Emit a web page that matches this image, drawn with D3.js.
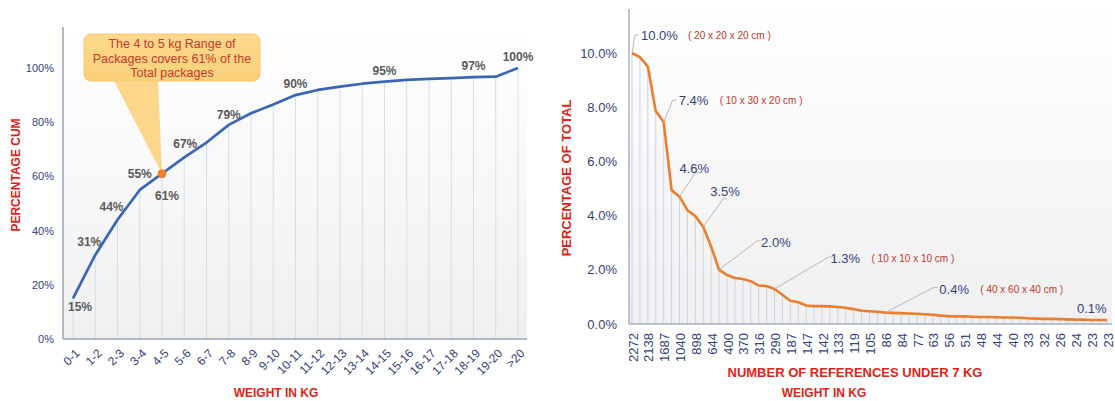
<!DOCTYPE html>
<html>
<head>
<meta charset="utf-8">
<script src="https://cdn.jsdelivr.net/npm/d3@7"></script>
<style>
  html, body { margin: 0; padding: 0; background: #fff; }
  svg { display: block; font-family: Arial, "Liberation Sans", sans-serif; }
</style>
</head>
<body>
<svg id="chart" width="1115" height="401"></svg>
<script>
// ---------- Left chart data ----------
const weightCategories = ["0-1","1-2","2-3","3-4","4-5","5-6","6-7","7-8","8-9","9-10","10-11","11-12","12-13","13-14","14-15","15-16","16-17","17-18","18-19","19-20",">20"];
const cumulativePercent = [15, 31, 44, 55, 61, 67, 72.5, 79, 83.3, 86.5, 90, 91.9, 93.1, 94.2, 95, 95.6, 96.0, 96.3, 96.6, 96.8, 100];
const labeledWeightIdx = [0, 1, 2, 3, 4, 5, 7, 10, 14, 18, 20];
const leftYTicks = [0, 20, 40, 60, 80, 100];
const calloutLines = ["The 4 to 5 kg Range of", "Packages covers 61% of the", "Total packages"];
const calloutIdx = 4;

// ---------- Right chart data ----------
const referenceTickLabels = ["2272","2138","1687","1040","898","644","400","370","316","290","187","147","142","133","119","105","86","84","77","63","56","51","48","44","40","33","32","26","24","23","23"];
const percentOfTotal = [10.0, 9.85, 9.5, 7.86, 7.45, 4.94, 4.7, 4.2, 3.98, 3.59, 2.85, 2.0, 1.81, 1.70, 1.66, 1.58, 1.42, 1.40, 1.29, 1.08, 0.86, 0.80, 0.68, 0.66, 0.66, 0.65, 0.63, 0.60, 0.55, 0.49, 0.47, 0.45, 0.42, 0.41, 0.40, 0.39, 0.38, 0.36, 0.34, 0.31, 0.29, 0.28, 0.28, 0.27, 0.26, 0.26, 0.25, 0.24, 0.24, 0.23, 0.21, 0.20, 0.19, 0.19, 0.18, 0.17, 0.16, 0.16, 0.15, 0.15, 0.15];
const rightYTicks = [0, 2, 4, 6, 8, 10];
const annotIdx = [0, 4, 6, 9, 11, 18, 32, 60];
const annotText = ["10.0%", "7.4%", "4.6%", "3.5%", "2.0%", "1.3%", "0.4%", "0.1%"];
const annotNote = ["( 20 x 20 x 20 cm )", "( 10 x 30 x 20 cm )", "", "", "", "( 10 x 10 x 10 cm )", "( 40 x 60 x 40 cm )", ""];

const svg = d3.select("#chart");
const defs = svg.append("defs");
const g1 = defs.append("linearGradient").attr("id", "bgGrad").attr("x1", 0).attr("y1", 0).attr("x2", 0).attr("y2", 1);
g1.append("stop").attr("offset", "0%").attr("stop-color", "#ffffff");
g1.append("stop").attr("offset", "100%").attr("stop-color", "#f0f0f1");
const g2 = defs.append("linearGradient").attr("id", "callGrad").attr("x1", 0).attr("y1", 0).attr("x2", 0).attr("y2", 1);
g2.append("stop").attr("offset", "0%").attr("stop-color", "#fdd98c");
g2.append("stop").attr("offset", "100%").attr("stop-color", "#fbd07a");

const navy = "#34427a";
const red = "#e2231a";

// ================= LEFT CHART =================
const L = { left: 63, right: 527, top: 27, bottom: 339 };
const xL = d3.scalePoint().domain(weightCategories).range([73, 518]);
const yL = d3.scaleLinear().domain([0, 100]).range([L.bottom, 68]);

svg.append("rect").attr("x", L.left).attr("y", L.top).attr("width", L.right - L.left).attr("height", L.bottom - L.top).attr("fill", "url(#bgGrad)");

svg.append("g").selectAll("line").data(weightCategories).join("line")
  .attr("x1", d => xL(d)).attr("x2", d => xL(d))
  .attr("y1", (d, i) => yL(cumulativePercent[i])).attr("y2", L.bottom)
  .attr("stroke", "#cae1f0").attr("stroke-width", 1);

svg.append("line").attr("x1", L.left).attr("x2", L.left).attr("y1", L.top).attr("y2", L.bottom).attr("stroke", "#9aa3b5").attr("stroke-width", 1.5);
svg.append("line").attr("x1", L.left).attr("x2", L.right).attr("y1", L.bottom).attr("y2", L.bottom).attr("stroke", "#9aa3b5").attr("stroke-width", 1.5);

const yAxisL = svg.append("g").attr("transform", `translate(${L.left - 9},0)`)
  .call(d3.axisLeft(yL).tickValues(leftYTicks).tickSize(0).tickFormat(d => d + "%"));
yAxisL.select(".domain").remove();
yAxisL.selectAll("text").attr("fill", navy).attr("font-size", 11).attr("font-family", "Arial, 'Liberation Sans', sans-serif").attr("x", 0);

const xAxisL = svg.append("g").attr("transform", `translate(0,${L.bottom})`)
  .call(d3.axisBottom(xL).tickSize(0));
xAxisL.select(".domain").remove();
xAxisL.selectAll("text")
  .attr("fill", navy).attr("font-size", 12).attr("font-family", "Arial, 'Liberation Sans', sans-serif")
  .attr("text-anchor", "end").attr("y", 0).attr("dy", 0)
  .attr("transform", "translate(7,15) rotate(-45)");

svg.append("path").datum(cumulativePercent)
  .attr("d", d3.line().x((d, i) => xL(weightCategories[i])).y(d => yL(d)))
  .attr("fill", "none").attr("stroke", "#3b66b8").attr("stroke-width", 2.7).attr("stroke-linejoin", "round");

// callout
const cx = xL(weightCategories[calloutIdx]), cy = yL(cumulativePercent[calloutIdx]);
svg.append("path").attr("d", `M113,79 L${cx},${cy} L158,79 Z`).attr("fill", "#fcd27d").attr("opacity", 0.9);
svg.append("rect").attr("x", 84).attr("y", 34).attr("width", 176).attr("height", 47).attr("rx", 7)
  .attr("fill", "url(#callGrad)").attr("stroke", "#f7c86e").attr("stroke-width", 1);
svg.append("g").selectAll("text").data(calloutLines).join("text")
  .attr("x", 172).attr("y", (d, i) => 48 + i * 14.5)
  .attr("text-anchor", "middle").attr("font-size", 12.5).attr("fill", "#c8372a").text(d => d);

svg.append("circle").attr("cx", cx).attr("cy", cy).attr("r", 4).attr("fill", "#f0822c").attr("stroke", "#e4701c").attr("stroke-width", 0.8);

const leftLabelOffset = { 0: [7, 13], 1: [-6, -9], 2: [-6, -9], 3: [0, -12], 4: [5, 26], 5: [1, -9], 7: [0, -6], 10: [0, -7], 14: [0, -7], 18: [0, -7], 20: [0, -7] };
svg.append("g").selectAll("text").data(labeledWeightIdx).join("text")
  .attr("x", i => xL(weightCategories[i]) + leftLabelOffset[i][0])
  .attr("y", i => yL(cumulativePercent[i]) + leftLabelOffset[i][1])
  .attr("text-anchor", "middle").attr("font-size", 12).attr("font-weight", "bold").attr("fill", "#5a5a5a")
  .text(i => Math.round(cumulativePercent[i]) + "%");

svg.append("text").attr("transform", "translate(20,175) rotate(-90)").attr("text-anchor", "middle")
  .attr("font-size", 12).attr("font-weight", "bold").attr("fill", red).text("PERCENTAGE CUM");
svg.append("text").attr("x", 276).attr("y", 397).attr("text-anchor", "middle")
  .attr("font-size", 12).attr("font-weight", "bold").attr("fill", red).text("WEIGHT IN KG");

// ================= RIGHT CHART =================
const R = { left: 629, right: 1112, top: 9, bottom: 324 };
const refIdx = d3.range(percentOfTotal.length);
const xR = d3.scalePoint().domain(refIdx).range([632, 1107]);
const yR = d3.scaleLinear().domain([0, 10]).range([R.bottom, 53]);

svg.append("rect").attr("x", R.left).attr("y", 0).attr("width", R.right - R.left).attr("height", R.bottom).attr("fill", "url(#bgGrad)");

svg.append("g").selectAll("line").data(refIdx).join("line")
  .attr("x1", d => xR(d)).attr("x2", d => xR(d))
  .attr("y1", d => yR(percentOfTotal[d])).attr("y2", R.bottom)
  .attr("stroke", "#c9d3e3").attr("stroke-width", 1);

svg.append("line").attr("x1", R.left).attr("x2", R.left).attr("y1", R.top).attr("y2", R.bottom).attr("stroke", "#a9b0bd").attr("stroke-width", 1.5);
svg.append("line").attr("x1", R.left).attr("x2", R.right).attr("y1", R.bottom).attr("y2", R.bottom).attr("stroke", "#a9b0bd").attr("stroke-width", 1.5);

const yAxisR = svg.append("g").attr("transform", `translate(${R.left - 12},0)`)
  .call(d3.axisLeft(yR).tickValues(rightYTicks).tickSize(0).tickFormat(d => d.toFixed(1) + "%"));
yAxisR.select(".domain").remove();
yAxisR.selectAll("text").attr("fill", navy).attr("font-size", 13).attr("font-family", "Arial, 'Liberation Sans', sans-serif").attr("x", 0);

const xAxisR = svg.append("g").attr("transform", `translate(0,${R.bottom})`)
  .call(d3.axisBottom(xR).tickValues(refIdx.filter(i => i % 2 === 0)).tickSize(0).tickFormat(i => referenceTickLabels[i / 2]));
xAxisR.select(".domain").remove();
xAxisR.selectAll("text")
  .attr("fill", navy).attr("font-size", 13).attr("font-family", "Arial, 'Liberation Sans', sans-serif")
  .attr("text-anchor", "end").attr("y", 0).attr("dy", 0)
  .attr("transform", "translate(5,9) rotate(-90)");

svg.append("path").datum(percentOfTotal)
  .attr("d", d3.line().x((d, i) => xR(i)).y(d => yR(d)))
  .attr("fill", "none").attr("stroke", "#ec7d2d").attr("stroke-width", 2.6).attr("stroke-linejoin", "round");

const leaderTo = [[3, -18], [9, -22], [16, -24], [20, -28], [38, -29], [54, -32], [48, -25], null];
const textAt = [[9, -18], [15, -22], [0, -29], [7, -36], [42, -28], [56, -31], [54, -24], [-30, -12]];
const ag = svg.append("g");
annotIdx.forEach((idx, k) => {
  const px = xR(idx), py = yR(percentOfTotal[idx]);
  const lt = leaderTo[k];
  if (lt) {
    ag.append("polyline")
      .attr("points", `${px},${py} ${px + lt[0]},${py + lt[1]} ${px + lt[0] + 4},${py + lt[1]}`)
      .attr("fill", "none").attr("stroke", "#b8b8b8").attr("stroke-width", 1);
  }
  const tx = px + textAt[k][0], ty = py + textAt[k][1];
  ag.append("text").attr("x", tx).attr("y", ty + 5).attr("font-size", 13).attr("fill", navy).text(annotText[k]);
  if (annotNote[k]) {
    ag.append("text").attr("x", tx + (k === 0 ? 47 : 41)).attr("y", ty + 4).attr("font-size", 10).attr("fill", "#c0392b").text(annotNote[k]);
  }
});

svg.append("text").attr("transform", "translate(571,178) rotate(-90)").attr("text-anchor", "middle")
  .attr("font-size", 13).attr("font-weight", "bold").attr("fill", red).text("PERCENTAGE OF TOTAL");
svg.append("text").attr("x", 855).attr("y", 377).attr("text-anchor", "middle")
  .attr("font-size", 13).attr("font-weight", "bold").attr("fill", red).text("NUMBER OF REFERENCES UNDER 7 KG");
svg.append("text").attr("x", 824).attr("y", 397).attr("text-anchor", "middle")
  .attr("font-size", 12).attr("font-weight", "bold").attr("fill", red).text("WEIGHT IN KG");
</script>
</body>
</html>
